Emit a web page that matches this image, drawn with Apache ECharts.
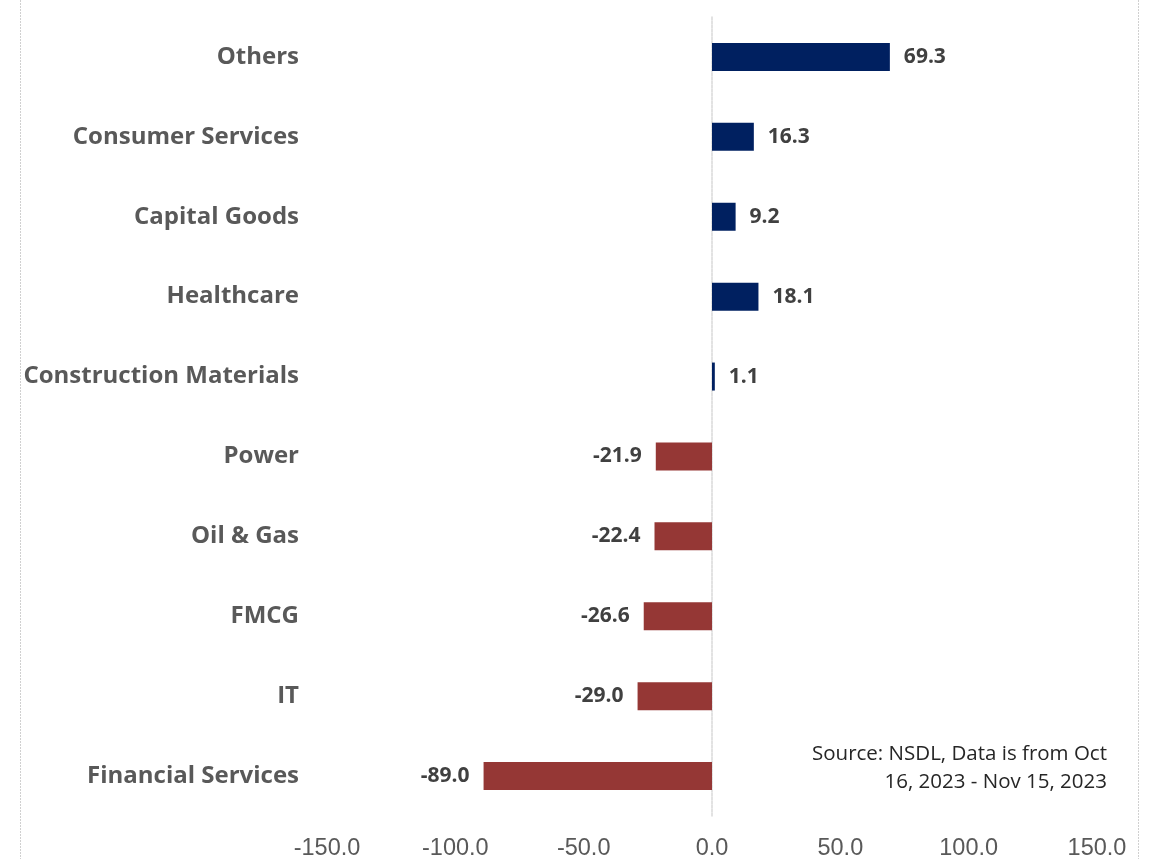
<!DOCTYPE html>
<html><head><meta charset="utf-8">
<script src="https://cdn.jsdelivr.net/npm/echarts@6/dist/echarts.min.js"></script>
<style>html,body{margin:0;padding:0;background:#fff}#c{width:1150px;height:859px}</style>
</head><body><div id="c"></div>
<script>
const categories = ["Financial Services","IT","FMCG","Oil & Gas","Power","Construction Materials","Healthcare","Capital Goods","Consumer Services","Others"];
const values = [-89.0,-29.0,-26.6,-22.4,-21.9,1.1,18.1,9.2,16.3,69.3];
const sourceText = "Source: NSDL, Data is from Oct\n16, 2023 - Nov 15, 2023";
const posColor = "#002060", negColor = "#953735";
const chart = echarts.init(document.getElementById('c'));
chart.setOption({
  animation:false,
  grid:{left:327,right:53,top:17,bottom:43,outerBoundsMode:'none',containLabel:false},
  xAxis:{type:'value',min:-150,max:150,interval:50,
    axisLabel:{formatter:v=>v.toFixed(1),color:'#595959',fontFamily:'"Liberation Sans",sans-serif',fontSize:23.5,margin:21},
    splitLine:{show:false},axisLine:{show:false},axisTick:{show:false}},
  yAxis:{type:'category',data:categories,
    axisLine:{show:true,onZero:true,lineStyle:{color:'#d9d9d9',width:1.5,type:[3,1]}},
    axisTick:{show:false},
    axisLabel:{color:'#595959',fontFamily:'"Open Sans",sans-serif',fontWeight:'bold',fontSize:24,margin:28}},
  graphic:[
    {type:'line',shape:{x1:20.5,y1:0,x2:20.5,y2:859},style:{stroke:'#d0d0d0',lineWidth:1,lineDash:[2,1]}},
    {type:'line',shape:{x1:1138.5,y1:0,x2:1138.5,y2:859},style:{stroke:'#d0d0d0',lineWidth:1,lineDash:[2,1]}},
    {type:'text',x:1107,y:740,style:{text:sourceText,align:'right',verticalAlign:'top',fill:'#262626',font:'20.5px "Open Sans",sans-serif',lineHeight:28}}
  ],
  series:[{type:'bar',barWidth:28,
    data:values.map(v=>({value:v,itemStyle:{color:v>=0?posColor:negColor},
      label:{position:v>=0?'right':'left'}})),
    label:{show:true,formatter:p=>p.value.toFixed(1),distance:14,color:'#404040',fontFamily:'"Open Sans",sans-serif',fontWeight:'bold',fontSize:21}
  }]
});
</script></body></html>
